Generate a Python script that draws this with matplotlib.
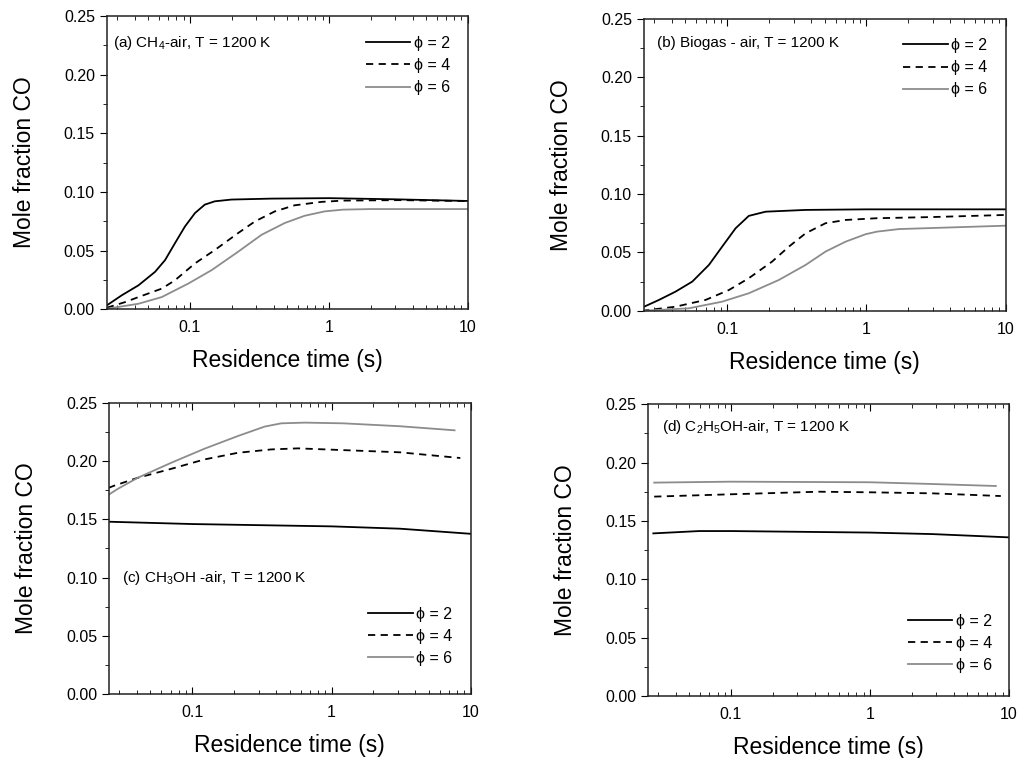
import matplotlib
matplotlib.use("Agg")
import matplotlib.pyplot as plt
from matplotlib.ticker import LogLocator, FuncFormatter, MultipleLocator, NullFormatter

plt.rcParams['font.family'] = ['Liberation Sans', 'DejaVu Sans']
plt.rcParams['mathtext.fontset'] = 'custom'
plt.rcParams['mathtext.rm'] = 'Liberation Sans'
plt.rcParams['mathtext.it'] = 'Liberation Sans'

# (a) CH4-air
a_t2 = [0.0252, 0.0323, 0.0426, 0.0561, 0.0662, 0.078, 0.092, 0.1087, 0.128, 0.151, 0.199, 0.385, 1.0, 3.0, 10.0]
a_y2 = [0.0033, 0.0119, 0.0204, 0.0319, 0.0419, 0.0563, 0.0705, 0.082, 0.0892, 0.092, 0.0935, 0.0943, 0.0947, 0.0937, 0.0923]
a_t4 = [0.0252, 0.0341, 0.0426, 0.0627, 0.078, 0.1087, 0.151, 0.222, 0.293, 0.408, 0.567, 0.881, 1.26, 3.2, 10.0]
a_y4 = [0.0013, 0.0061, 0.0104, 0.0176, 0.0247, 0.0391, 0.0505, 0.0649, 0.0748, 0.0834, 0.0886, 0.0915, 0.0926, 0.093, 0.0922]
a_t6 = [0.0252, 0.0426, 0.0627, 0.0973, 0.143, 0.222, 0.327, 0.481, 0.670, 0.931, 1.26, 2.0, 10.0]
a_y6 = [0.0004, 0.0047, 0.0104, 0.0219, 0.0333, 0.049, 0.0634, 0.0735, 0.0797, 0.0834, 0.0849, 0.0854, 0.0854]

# (b) Biogas-air
b_t2 = [0.0245, 0.0324, 0.0426, 0.0562, 0.074, 0.092, 0.115, 0.143, 0.189, 0.366, 1.0, 10.0]
b_y2 = [0.0027, 0.0093, 0.0164, 0.025, 0.0393, 0.0549, 0.0707, 0.0813, 0.0849, 0.0864, 0.0869, 0.0869]
b_t4 = [0.0245, 0.0426, 0.070, 0.103, 0.143, 0.210, 0.277, 0.366, 0.508, 0.708, 1.19, 2.97, 10.0]
b_y4 = [0.0, 0.0035, 0.0093, 0.0178, 0.0279, 0.0421, 0.0549, 0.0664, 0.075, 0.0778, 0.0793, 0.0803, 0.0821]
b_t6 = [0.0245, 0.053, 0.092, 0.143, 0.235, 0.366, 0.508, 0.708, 0.986, 1.19, 1.71, 10.0]
b_y6 = [0.0, 0.0021, 0.0078, 0.015, 0.0264, 0.0393, 0.0507, 0.0592, 0.0656, 0.0678, 0.070, 0.0729]

# (c) CH3OH-air
c_t2 = [0.025, 0.1, 1.0, 3.1, 10.0]
c_y2 = [0.148, 0.146, 0.144, 0.142, 0.1376]
c_t4 = [0.025, 0.0276, 0.0406, 0.0706, 0.1225, 0.2128, 0.370, 0.575, 1.21, 3.1, 8.4]
c_y4 = [0.177, 0.179, 0.1857, 0.1934, 0.2015, 0.2072, 0.2101, 0.211, 0.2095, 0.2076, 0.2027]
c_t6 = [0.025, 0.0292, 0.0406, 0.0706, 0.1225, 0.2128, 0.331, 0.436, 0.643, 1.21, 3.1, 7.64]
c_y6 = [0.171, 0.1762, 0.1857, 0.1986, 0.2107, 0.2216, 0.2297, 0.2325, 0.2331, 0.2325, 0.230, 0.2265]

# (d) C2H5OH-air
d_t2 = [0.0276, 0.059, 0.1, 1.0, 2.82, 10.0]
d_y2 = [0.1393, 0.1413, 0.1413, 0.140, 0.1387, 0.1359]
d_t4 = [0.028, 0.1, 0.43, 1.0, 2.82, 8.75]
d_y4 = [0.1708, 0.1728, 0.175, 0.1745, 0.1736, 0.1713]
d_t6 = [0.028, 0.1, 1.0, 2.82, 8.06]
d_y6 = [0.1828, 0.1836, 0.1831, 0.1816, 0.1799]

phi_labels = ['ϕ = 2', 'ϕ = 4', 'ϕ = 6']
titles = [r'(a) CH$_4$-air, T = 1200 K',
          r'(b) Biogas - air, T = 1200 K',
          r'(c) CH$_3$OH -air, T = 1200 K',
          r'(d) C$_2$H$_5$OH-air, T = 1200 K']

panels = [
    ((a_t2, a_y2), (a_t4, a_y4), (a_t6, a_y6)),
    ((b_t2, b_y2), (b_t4, b_y4), (b_t6, b_y6)),
    ((c_t2, c_y2), (c_t4, c_y4), (c_t6, c_y6)),
    ((d_t2, d_y2), (d_t4, d_y4), (d_t6, d_y6)),
]

rects = [
    [0.105, 0.592, 0.355, 0.387],
    [0.633, 0.590, 0.356, 0.385],
    [0.107, 0.0844, 0.356, 0.384],
    [0.637, 0.0818, 0.355, 0.385],
]
text_pos = [(0.017, 0.908), (0.036, 0.918), (0.036, 0.399), (0.039, 0.921)]
leg_pos = [('upper right', (0.95, 0.932)), ('upper right', (0.948, 0.935)),
           ('lower right', (0.948, 0.096)), ('lower right', (0.953, 0.079))]

styles = [dict(color='black', ls='-'),
          dict(color='black', ls=(0, (4, 3))),
          dict(color='#8c8c8c', ls='-')]

fig = plt.figure(figsize=(10.17, 7.58), dpi=100)

for i in range(4):
    ax = fig.add_axes(rects[i])
    for (t, y), st, lab in zip(panels[i], styles, phi_labels):
        ax.plot(t, y, lw=1.3, label=lab, **st)
    ax.set_xscale('log')
    ax.set_xlim(0.0252, 10)
    ax.set_ylim(0, 0.25)
    ax.yaxis.set_major_locator(MultipleLocator(0.05))
    ax.yaxis.set_minor_locator(MultipleLocator(0.025))
    ax.yaxis.set_major_formatter(FuncFormatter(lambda v, p: '%.2f' % v))
    ax.xaxis.set_major_locator(LogLocator(base=10, numticks=10))
    ax.xaxis.set_minor_locator(LogLocator(base=10, subs=range(2, 10), numticks=20))
    ax.xaxis.set_major_formatter(FuncFormatter(lambda v, p: '%g' % v))
    ax.xaxis.set_minor_formatter(NullFormatter())
    ax.tick_params(axis='y', which='both', direction='out', left=True, right=False,
                   labelsize=11.5)
    ax.tick_params(axis='x', which='both', direction='in', top=True, bottom=True,
                   labelsize=11.5, pad=8)
    ax.tick_params(which='major', length=5)
    ax.tick_params(which='minor', length=3)
    for sp in ax.spines.values():
        sp.set_linewidth(1.1)
        sp.set_color('#222222')
    ax.set_xlabel('Residence time (s)', fontsize=16.5, labelpad=10)
    ax.set_ylabel('Mole fraction CO', fontsize=16.5, labelpad=20)
    ax.text(text_pos[i][0], text_pos[i][1], titles[i], transform=ax.transAxes,
            fontsize=11, va='center', ha='left')
    loc, anchor = leg_pos[i]
    ax.legend(loc=loc, bbox_to_anchor=anchor, frameon=False, fontsize=11.5,
              handlelength=2.8, handletextpad=0.2, labelspacing=0.45,
              borderpad=0, borderaxespad=0)

fig.savefig('out.png', dpi=100)
